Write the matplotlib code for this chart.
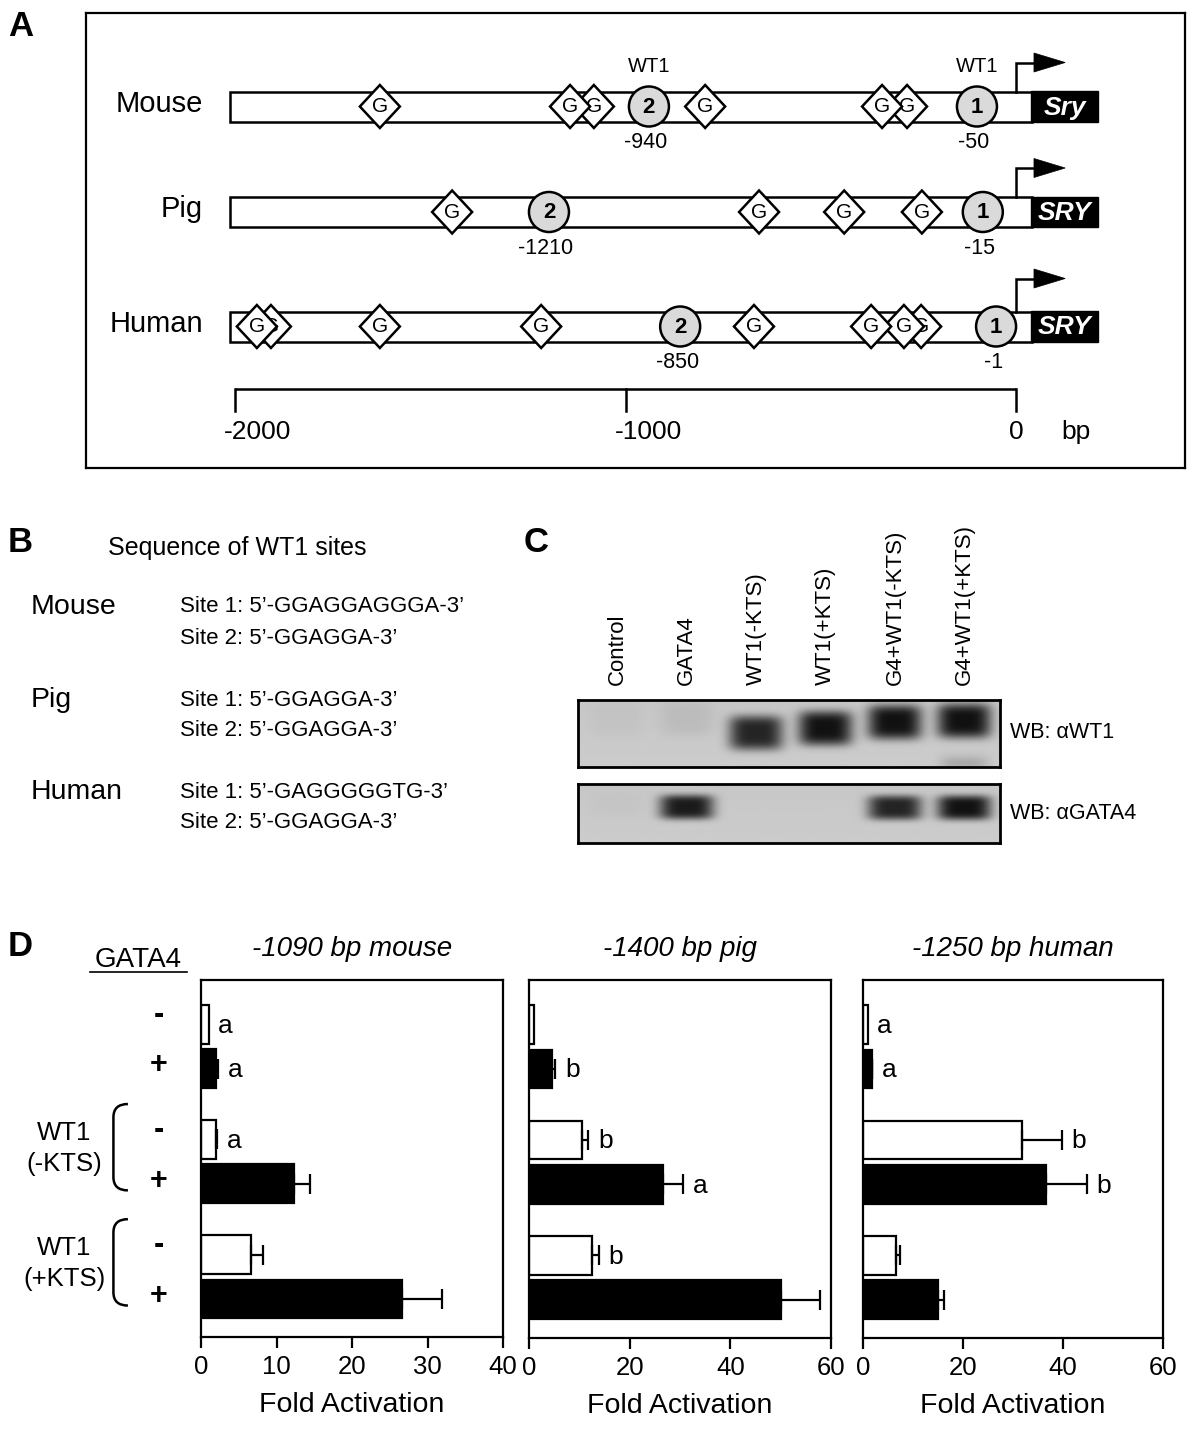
import numpy as np
import matplotlib
matplotlib.use('Agg')
import matplotlib.pyplot as plt
import matplotlib.transforms as mtransforms
from matplotlib.patches import Rectangle, Polygon, Ellipse, PathPatch
from matplotlib.path import Path
from matplotlib.lines import Line2D

plt.rcParams['font.family'] = ['Liberation Sans', 'DejaVu Sans']
plt.rcParams['axes.unicode_minus'] = False

W, H = 1200, 1432

# ---------------- data ----------------
# A: promoter maps, positions in bp upstream of the Sry/SRY start
species = ['Mouse', 'Pig', 'Human']
genes = ['Sry', 'SRY', 'SRY']
gata_sites = [
    [-1629, -1142, -1081, -796, -343, -279],
    [-1444, -658, -440, -241],
    [-1944, -1908, -1629, -1216, -671, -371, -287, -243],
]
wt1_names = ['2', '1']
wt1_labels = [[-940, -50], [-1210, -15], [-850, -1]]
wt1_drawn = [[-940, -100], [-1196, -85], [-860, -51]]
promoter_start = -2013
scale_ticks = [-2000, -1000, 0]

# B: WT1 site sequences
seq_species = ['Mouse', 'Pig', 'Human']
site1_seq = ['5\u2019-GGAGGAGGGA-3\u2019', '5\u2019-GGAGGA-3\u2019', '5\u2019-GAGGGGGTG-3\u2019']
site2_seq = ['5\u2019-GGAGGA-3\u2019', '5\u2019-GGAGGA-3\u2019', '5\u2019-GGAGGA-3\u2019']

# C: western blot lanes and relative band intensities
lanes = ['Control', 'GATA4', 'WT1(-KTS)', 'WT1(+KTS)', 'G4+WT1(-KTS)', 'G4+WT1(+KTS)']
wt1_band = [0.03, 0.07, 0.9, 1.0, 1.0, 1.0]
wt1_band_pos = [0.30, 0.28, 0.49, 0.42, 0.33, 0.31]
gata4_band = [0.02, 0.95, 0.0, 0.0, 0.9, 1.0]
gata4_band_pos = [0.35, 0.39, 0.39, 0.39, 0.40, 0.40]

# D: luciferase fold activation
gata4_sign = ['-', '+', '-', '+', '-', '+']
panel_titles = ['-1090 bp mouse', '-1400 bp pig', '-1250 bp human']
mouse_fold = [1.0, 1.95, 2.0, 12.3, 6.6, 26.6]
mouse_err = [0, 0.3, 0.15, 2.1, 1.65, 5.3]
mouse_sig = ['a', 'a', 'a', '', '', '']
pig_fold = [1.0, 4.65, 10.6, 26.6, 12.6, 50.1]
pig_err = [0, 0.55, 1.2, 4.0, 1.3, 7.8]
pig_sig = ['', 'b', 'b', 'a', 'b', '']
human_fold = [0.9, 1.7, 31.7, 36.6, 6.6, 15.0]
human_err = [0, 0.15, 8.0, 8.2, 0.8, 1.2]
human_sig = ['a', 'a', 'b', 'b', '', '']


def rect(x0, y0, x1, y1):
    return [x0 / W, 1 - y1 / H, (x1 - x0) / W, (y1 - y0) / H]


def ftext(x, y, s, **kw):
    fig.text(x / W, 1 - y / H, s, **kw)


fig = plt.figure(figsize=(12, 14.32), dpi=100)
fig.patch.set_facecolor('white')

# ---------------- panel A ----------------
axA = fig.add_axes(rect(86, 13, 1185, 468))
px_per_bp = 0.3905
bpx = 1 / px_per_bp
axA.set_xlim((86 - 1016) * bpx, (1185 - 1016) * bpx)
axA.set_ylim(468, 13)
axA.set_xticks([])
axA.set_yticks([])
for s in axA.spines.values():
    s.set_linewidth(1.6)

row_y = [106.5, 212, 326.5]
hh = 15
for i, sp in enumerate(species):
    yc = row_y[i]
    axA.add_patch(Rectangle((promoter_start, yc - hh), 40 - promoter_start, 2 * hh,
                            fc='white', ec='black', lw=1.8, zorder=2))
    axA.add_patch(Rectangle((38, yc - hh - 0.5), 172, 2 * hh + 1, fc='black', ec='black', lw=1, zorder=3))
    axA.text(124, yc + 1, genes[i], color='white', fontsize=19, fontweight='bold', fontstyle='italic',
             ha='center', va='center', zorder=4)
    top = yc - hh
    ay = top - 29 if i < 2 else top - 33
    axA.plot([0, 0, 48], [top, ay, ay], color='black', lw=1.8, zorder=2, solid_joinstyle='miter')
    axA.add_patch(Polygon([[46, ay - 9.5], [46, ay + 9.5], [126, ay]], closed=True, fc='black', ec='black', lw=0.5))
    axA.text((203 - 1016) * bpx, yc - 3, sp, fontsize=21, ha='right', va='center')

    # GATA sites, left ones drawn on top
    for k, g in enumerate(sorted(gata_sites[i], reverse=True)):
        z = 5 + 0.02 * k
        dx, dy = 20 * bpx, 21.5
        axA.add_patch(Polygon([[g - dx, yc], [g, yc - dy], [g + dx, yc], [g, yc + dy]], closed=True,
                              fc='white', ec='black', lw=1.8, zorder=z))
        axA.text(g, yc, 'G', fontsize=15, ha='center', va='center', zorder=z + 0.01)

    # WT1 sites
    for name, pos, lab in zip(wt1_names, wt1_drawn[i], wt1_labels[i]):
        axA.add_patch(Ellipse((pos, yc), 40 * bpx, 40, fc='#dadada', ec='black', lw=1.8, zorder=6))
        axA.text(pos, yc + 1, name, fontsize=16, fontweight='bold', ha='center', va='center', zorder=7)
        axA.text(pos - 3 * bpx, yc + 36, str(lab), fontsize=15.5, ha='center', va='center')
        if i == 0:
            axA.text(pos, yc - 40, 'WT1', fontsize=14.5, ha='center', va='center')

# scale bar
axA.plot([scale_ticks[0], scale_ticks[-1]], [389, 389], color='black', lw=1.8, solid_capstyle='butt')
for t in scale_ticks:
    axA.plot([t, t], [389, 411], color='black', lw=1.8)
    off = 23 * bpx if t < 0 else 0
    axA.text(t + off, 432, str(t), fontsize=19, ha='center', va='center')
axA.text((1076 - 1016) * bpx, 432, 'bp', fontsize=19, ha='center', va='center')

ftext(8, 27, 'A', fontsize=25, fontweight='bold', ha='left', va='center')

# ---------------- panel B ----------------
ftext(8, 543, 'B', fontsize=25, fontweight='bold', ha='left', va='center')
ftext(108, 548, 'Sequence of WT1 sites', fontsize=18, ha='left', va='center')
b_rows = [607, 700, 792]
for sp, s1, s2, yy in zip(seq_species, site1_seq, site2_seq, b_rows):
    ftext(31, yy, sp, fontsize=20.5, ha='left', va='center')
    ftext(180, yy, 'Site 1: ' + s1, fontsize=16, ha='left', va='center')
    ftext(180, yy + 31, 'Site 2: ' + s2, fontsize=16, ha='left', va='center')

# ---------------- panel C ----------------
ftext(524, 543, 'C', fontsize=25, fontweight='bold', ha='left', va='center')
lane_px = 69.5
xlo, xhi = (578 - 617) / lane_px, (1000 - 617) / lane_px


def blot(ax, intens, ypos, half_h, extra=None):
    xs = np.linspace(xlo, xhi, 500)
    ys = np.linspace(0, 1, 120)
    X, Y = np.meshgrid(xs, ys)
    dark = np.zeros_like(X)
    for j, (a, c) in enumerate(zip(intens, ypos)):
        dark += a * np.exp(-((X - j) / 0.39) ** 4 - ((Y - c) / half_h) ** 4)
    if extra is not None:
        j, a, c = extra
        dark += a * np.exp(-((X - j) / 0.35) ** 4 - ((Y - c) / 0.12) ** 2)
    img = 0.80 - 0.02 * (1 - Y) - 0.72 * np.clip(dark, 0, 1)
    ax.imshow(img, extent=(xlo, xhi, 1, 0), cmap='gray', vmin=0, vmax=1, aspect='auto',
              interpolation='bilinear')
    ax.set_xlim(xlo, xhi)
    ax.set_ylim(1, 0)
    ax.set_xticks([])
    ax.set_yticks([])
    for s in ax.spines.values():
        s.set_linewidth(2)


axC1 = fig.add_axes(rect(578, 700, 1000, 767))
blot(axC1, wt1_band, wt1_band_pos, 0.26, extra=(5, 0.18, 0.95))
axC2 = fig.add_axes(rect(578, 784, 1000, 843))
blot(axC2, gata4_band, gata4_band_pos, 0.21)
for j, lab in enumerate(lanes):
    axC1.text(j, -0.22, lab, rotation=90, fontsize=16, ha='center', va='bottom')
ftext(1010, 733, 'WB: \u03b1WT1', fontsize=15.5, ha='left', va='center')
ftext(1010, 813, 'WB: \u03b1GATA4', fontsize=15.5, ha='left', va='center')

# ---------------- panel D ----------------
ftext(8, 947, 'D', fontsize=25, fontweight='bold', ha='left', va='center')
bar_pos = np.array([0, 1, 2.6, 3.6, 5.2, 6.2])
bar_col = ['white', 'black'] * 3
panels = [
    (rect(201, 980, 503, 1337), mouse_fold, mouse_err, mouse_sig, 40, 10),
    (rect(529, 980, 831, 1338), pig_fold, pig_err, pig_sig, 60, 20),
    (rect(863, 980, 1163, 1338), human_fold, human_err, human_sig, 60, 20),
]
axes_d = []
for (r, fold, err, sig, xmax, step), title in zip(panels, panel_titles):
    ax = fig.add_axes(r)
    axes_d.append(ax)
    fold = np.array(fold)
    err = np.array(err)
    ax.barh(bar_pos, fold, height=0.87, color=bar_col, edgecolor='black', linewidth=1.6, zorder=2)
    m = err > 0
    ax.errorbar(fold[m], bar_pos[m], xerr=[np.zeros(m.sum()), err[m]], fmt='none', ecolor='black',
                elinewidth=1.6, capsize=7, capthick=1.6, zorder=3)
    for p, v, e, s in zip(bar_pos, fold, err, sig):
        if s:
            ax.annotate(s, (v + e, p), xytext=(7, -1), textcoords='offset points',
                        fontsize=19, ha='left', va='center')
    ax.set_xlim(0, xmax)
    ax.set_ylim(7.06, -1.0)
    ax.set_xticks(np.arange(0, xmax + 1, step))
    ax.set_yticks([])
    ax.tick_params(axis='x', direction='out', length=8, width=1.6, labelsize=18.5, pad=5)
    for s in ax.spines.values():
        s.set_linewidth(1.6)
    ax.set_xlabel('Fold Activation', fontsize=20.5, labelpad=9)
    ax.set_title(title, fontsize=20, fontstyle='italic', pad=17)

# row labels to the left of the mouse panel
axm = axes_d[0]
trans = mtransforms.blended_transform_factory(axm.transAxes, axm.transData)
for p, s in zip(bar_pos, gata4_sign):
    dy = -0.22 if s == '-' else -0.07
    axm.text(-0.139, p + dy, s, transform=trans, fontsize=22, fontweight='bold',
             ha='center', va='center', clip_on=False)
groups = [('WT1\n(-KTS)', 2), ('WT1\n(+KTS)', 4)]
for lab, g in groups:
    y0, y1 = bar_pos[g] - 0.8, bar_pos[g + 1] + 0.15
    xa, xb, rr = -0.242, -0.29, 0.3
    verts = [(xa, y0), (xb, y0), (xb, y0 + rr), (xb, y1 - rr), (xb, y1), (xa, y1)]
    codes = [Path.MOVETO, Path.CURVE3, Path.CURVE3, Path.LINETO, Path.CURVE3, Path.CURVE3]
    axm.add_patch(PathPatch(Path(verts, codes), transform=trans, fc='none', ec='black', lw=1.8,
                            clip_on=False))
    axm.text(-0.453, bar_pos[g] + 0.2, lab, transform=trans, fontsize=18.5, ha='center',
             va='center', linespacing=1.35, clip_on=False)

ftext(138, 960, 'GATA4', fontsize=20, ha='center', va='center')
fig.add_artist(Line2D([90 / W, 187 / W], [1 - 972 / H, 1 - 972 / H], color='black', lw=1.2))

fig.savefig('out.png', dpi=100)
